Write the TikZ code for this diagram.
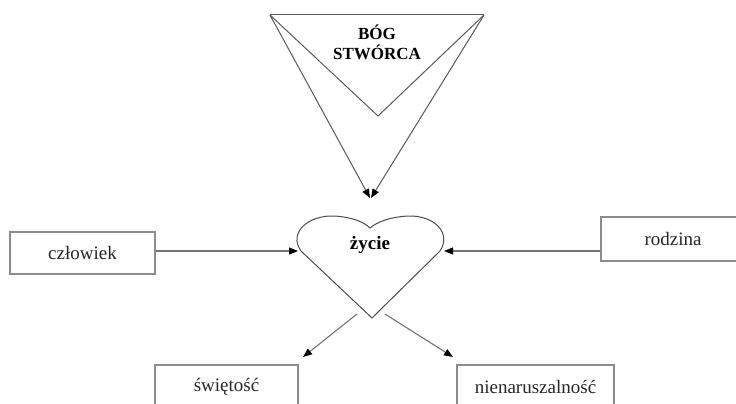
\documentclass[tikz,border=0pt]{standalone}
\usepackage{fontspec}
\setmainfont{Liberation Serif}
\usetikzlibrary{arrows.meta}
\tikzset{
  lbl/.style={font=\fontsize{19}{22}\selectfont, text=black!85},
  boxnode/.style={draw=black!45, line width=1.3pt, rectangle, inner sep=0pt, lbl},
  link/.style={draw=black!55, line width=1.1pt},
  tip/.style={-{Triangle[length=9pt,width=7pt,color=black,fill=black]}},
  arr/.style={link, tip},
  tri/.style={draw=black!65, line width=1pt},
}
\begin{document}
\begin{tikzpicture}[x=1pt,y=-1pt]
  \clip (0,0) rectangle (736,404);
  \fill[white] (0,0) rectangle (736,404);

  % creator: triangle with inner V
  \coordinate (tl) at (270,15);
  \coordinate (tr) at (484,15);
  \coordinate (tv) at (378,116);
  \coordinate (tipl) at (370,198);
  \coordinate (tipr) at (371,198);
  \draw[tri] (tl) -- (tr);
  \draw[tri] (tl) -- (tv) -- (tr);
  \draw[tri, tip] (tl) -- (tipl);
  \draw[tri, tip] (tr) -- (tipr);
  \node[font=\fontsize{17}{20}\selectfont\bfseries, align=center] (bog) at (377,42) {BÓG\\STWÓRCA};

  % heart
  \draw[draw=black!70, line width=1pt]
    (372,318) -- (301,251)
    .. controls (288,233) and (308,215) .. (334,216)
    .. controls (352,217) and (364,222) .. (370,228)
    .. controls (377,222) and (390,217) .. (408,216)
    .. controls (434,215) and (452,233) .. (440,251)
    -- cycle;
  \node[font=\fontsize{19}{22}\selectfont\bfseries] (zycie) at (370,245) {życie};
  \coordinate (hl) at (298,251);
  \coordinate (hr) at (444,251);
  \coordinate (hbl) at (357,314);
  \coordinate (hbr) at (385,314);

  % boxes
  \node[boxnode, minimum width=145pt, minimum height=42pt] (czlowiek) at (82.5,253) {człowiek};
  \node[boxnode, minimum width=144pt, minimum height=44pt] (rodzina) at (673,239) {rodzina};
  \node[boxnode, minimum width=143pt, minimum height=44pt] (swietosc) at (226.5,387) {świętość};
  \node[boxnode, minimum width=157pt, minimum height=44pt] (nienar) at (535.5,387) {nienaruszalność};

  \coordinate (sw) at (303,357);
  \coordinate (ni) at (453,357);

  % connectors
  \draw[arr] (czlowiek.east |- hl) -- (hl);
  \draw[arr] (rodzina.west |- hr) -- (hr);
  \draw[arr] (hbl) -- (sw);
  \draw[arr] (hbr) -- (ni);
\end{tikzpicture}
\end{document}
